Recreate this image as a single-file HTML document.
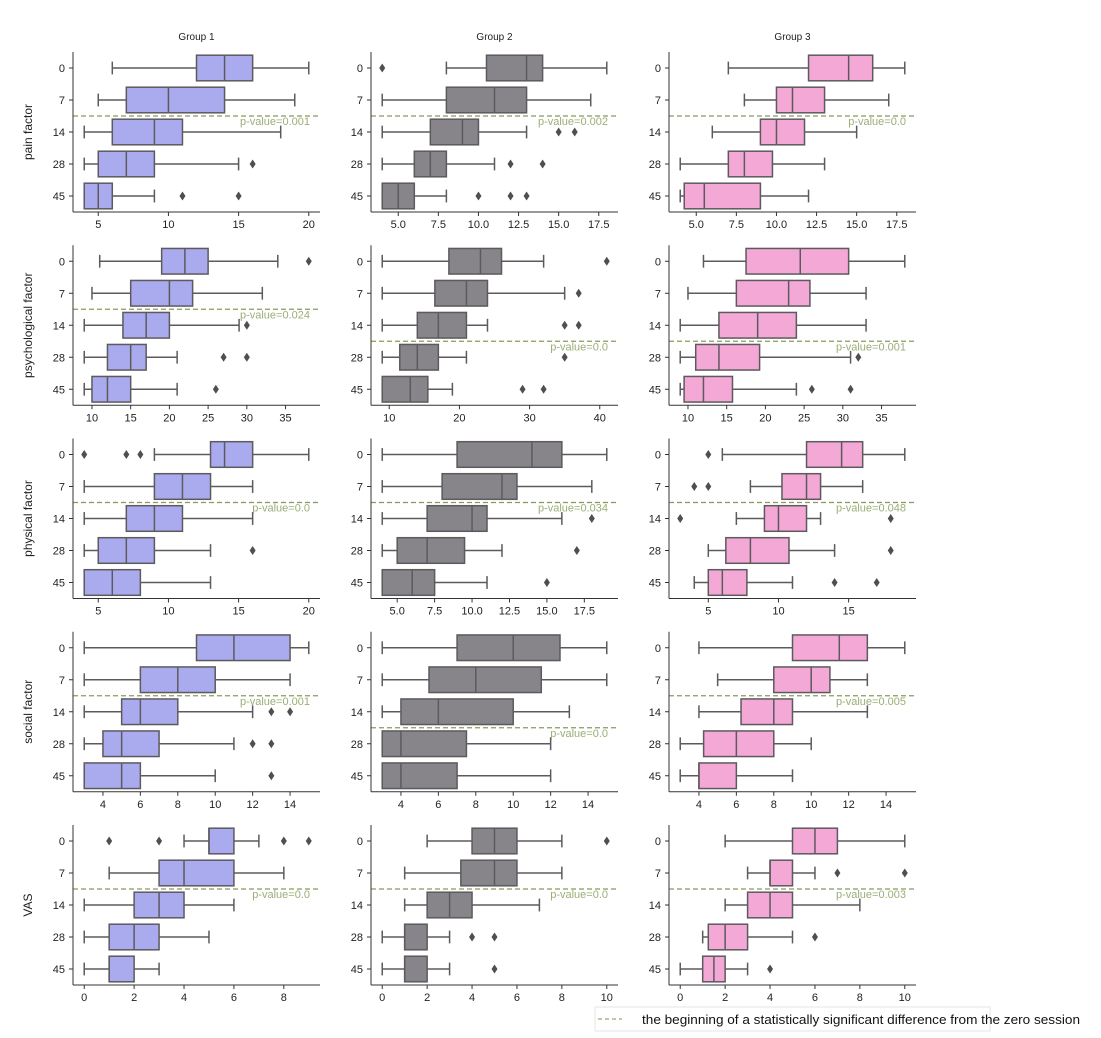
<!DOCTYPE html>
<html><head><meta charset="utf-8">
<style>
html,body{margin:0;padding:0;background:#fff;}
svg{display:block;font-family:"Liberation Sans",sans-serif;}
</style></head>
<body>
<svg id="chart" width="1101" height="1038" viewBox="0 0 1101 1038" xmlns="http://www.w3.org/2000/svg"></svg>
<script>
// ---- data ----
const sessions = ["0","7","14","28","45"];
const groups = ["Group 1","Group 2","Group 3"];
const factors = ["pain factor","psychological factor","physical factor","social factor","VAS"];
// box = [whiskerLow, q1, median, q3, whiskerHigh, [outliers]]
const painData = [
 [[6,12,14,16,20,[]],[5,7,10,14,19,[]],[4,6,9,11,18,[]],[4,5,7,9,15,[16]],[4,4,5,6,9,[11,15]]],
 [[8,10.5,13,14,18,[4]],[4,8,11,13,17,[]],[4,7,9,10,13,[15,16]],[4,6,7,8,11,[12,14]],[4,4,5,6,8,[10,12,13]]],
 [[7,12,14.5,16,18,[]],[8,10,11,13,17,[]],[6,9,10,11.75,15,[]],[4,7,8,9.75,13,[]],[4,4.25,5.5,9,12,[]]]
];
const psychData = [
 [[11,19,22,25,34,[38]],[10,15,20,23,32,[]],[9,14,17,20,29,[30]],[9,12,15,17,21,[27,30]],[9,10,12,15,21,[26]]],
 [[9,18.5,23,26,32,[41]],[9,16.5,21,24,35,[37]],[9,14,17,21,24,[35,37]],[9,11.5,14,17,21,[35]],[9,9,13,15.5,19,[29,32]]],
 [[12,17.5,24.5,30.75,38,[]],[10,16.25,23,25.75,33,[]],[9,14,19,24,33,[]],[9,11,14,19.25,31,[32]],[9,9.5,12,15.75,24,[26,31]]]
];
const physData = [
 [[9,13,14,16,20,[4,7,8]],[4,9,11,13,16,[]],[4,7,9,11,16,[]],[4,5,7,9,13,[16]],[4,4,6,8,13,[]]],
 [[4,9,14,16,19,[]],[4,8,12,13,18,[]],[4,7,10,11,16,[18]],[4,5,7,9.5,12,[17]],[4,4,6,7.5,11,[15]]],
 [[6,12,14.5,16,19,[5]],[8,10.25,12,13,16,[4,5]],[7,9,10,12,13,[3,18]],[5,6.25,8,10.75,14,[18]],[4,5,6,7.75,11,[14,17]]]
];
const socialData = [
 [[3,9,11,14,15,[]],[3,6,8,10,14,[]],[3,5,6,8,12,[13,14]],[3,4,5,7,11,[12,13]],[3,3,5,6,10,[13]]],
 [[3,7,10,12.5,15,[]],[3,5.5,8,11.5,15,[]],[3,4,6,10,13,[]],[3,3,4,7.5,12,[]],[3,3,4,7,12,[]]],
 [[4,9,11.5,13,15,[]],[5,8,10,11,13,[]],[4,6.25,8,9,13,[]],[3,4.25,6,8,10,[]],[3,4,4,6,9,[]]]
];
const vasData = [
 [[4,5,5,6,7,[1,3,8,9]],[1,3,4,6,8,[]],[0,2,3,4,6,[]],[0,1,2,3,5,[]],[0,1,1,2,3,[]]],
 [[2,4,5,6,8,[10]],[1,3.5,5,6,8,[]],[1,2,3,4,7,[]],[0,1,1,2,3,[4,5]],[0,1,1,2,3,[5]]],
 [[2,5,6,7,10,[]],[3,4,4,5,6,[7,10]],[2,3,4,5,8,[]],[1,1.25,2,3,5,[6]],[0,1,1.5,2,3,[4]]]
];
const allData = [painData, psychData, physData, socialData, vasData];
const tickSteps = [[5,2.5,2.5],[5,10,5],[5,2.5,5],[2,2,2],[2,2,2]];
const pValues = [["0.001","0.002","0.0"],["0.024","0.0","0.001"],["0.0","0.034","0.048"],["0.001","0.0","0.005"],["0.0","0.0","0.003"]];
const pPositions = [[1.5,1.5,1.5],[1.5,2.5,2.5],[1.5,1.5,1.5],[1.5,2.5,1.5],[1.5,1.5,1.5]];

// ---- layout ----
const NS = "http://www.w3.org/2000/svg";
const svg = document.getElementById("chart");
const colLeft = [73, 371, 669], axW = 247, axH = 160;
const fills = ["#aaabee", "#87858a", "#f4a8d6"];
const edge = "#5d5a5e";
function mk(tag, attrs, parent){
  const e = document.createElementNS(NS, tag);
  for (const k in attrs) e.setAttribute(k, attrs[k]);
  (parent || svg).appendChild(e);
  return e;
}
groups.forEach((g, c) => {
  const t = mk("text", {x: colLeft[c] + axW/2, y: 40, "text-anchor": "middle", "font-size": 10, fill: "#222"});
  t.textContent = g;
  
  
});
factors.forEach((f, r) => {
  const bottom = 212 + r * 193.25, top = bottom - axH;
  const yl = mk("text", {x: 0, y: 0, transform: `translate(32,${top + axH/2}) rotate(-90)`, "text-anchor": "middle", "font-size": 12, fill: "#222"});
  yl.textContent = f;
  
  
  for (let c = 0; c < 3; c++) {
    const boxes = allData[r][c];
    let mn = Infinity, mx = -Infinity;
    boxes.forEach(b => { mn = Math.min(mn, b[0], ...b[5]); mx = Math.max(mx, b[4], ...b[5]); });
    const pad = (mx - mn) * 0.05, d0 = mn - pad, d1 = mx + pad;
    const L = colLeft[c];
    const xs = v => L + (v - d0) / (d1 - d0) * axW;
    const ys = i => top + (i + 0.5) * axH / 5;
    const panel = mk("g", {});
    
    
    // significance line
    const py = ys(pPositions[r][c]);
    const dl = mk("line", {x1: L, x2: L + axW, y1: py, y2: py, stroke: "#8a9a5b", "stroke-width": 1.3, "stroke-dasharray": "5,3"}, panel);
    
    
    // boxes
    boxes.forEach((b, i) => {
      const y = ys(i), h = 25.6;
      const g = mk("g", {}, panel);
      
      
      mk("line", {x1: xs(b[0]), x2: xs(b[1]), y1: y, y2: y, stroke: edge, "stroke-width": 1.5}, g);
      mk("line", {x1: xs(b[3]), x2: xs(b[4]), y1: y, y2: y, stroke: edge, "stroke-width": 1.5}, g);
      mk("line", {x1: xs(b[0]), x2: xs(b[0]), y1: y - 6.4, y2: y + 6.4, stroke: edge, "stroke-width": 1.5}, g);
      mk("line", {x1: xs(b[4]), x2: xs(b[4]), y1: y - 6.4, y2: y + 6.4, stroke: edge, "stroke-width": 1.5}, g);
      mk("rect", {x: xs(b[1]), y: y - h/2, width: Math.max(0.5, xs(b[3]) - xs(b[1])), height: h, fill: fills[c], stroke: edge, "stroke-width": 1.5}, g);
      mk("line", {x1: xs(b[2]), x2: xs(b[2]), y1: y - h/2, y2: y + h/2, stroke: edge, "stroke-width": 1.5}, g);
      b[5].forEach(o => {
        const ox = xs(o);
        const p = mk("polygon", {points: `${ox},${y-4.5} ${ox+3},${y} ${ox},${y+4.5} ${ox-3},${y}`, fill: "#4f4f4f"}, g);
        
        
      });
    });
    const pt = mk("text", {x: L + axW - 10, y: py + 9, "text-anchor": "end", "font-size": 11, fill: "#9aae78"}, panel);
    pt.textContent = "p-value=" + pValues[r][c];
    
    
    // axes
    mk("line", {x1: L, x2: L, y1: top, y2: bottom, stroke: "#333", "stroke-width": 1}, panel);
    mk("line", {x1: L, x2: L + axW, y1: bottom, y2: bottom, stroke: "#333", "stroke-width": 1}, panel);
    sessions.forEach((s, i) => {
      mk("line", {x1: L - 4, x2: L, y1: ys(i), y2: ys(i), stroke: "#333"}, panel);
      const t = mk("text", {x: L - 8, y: ys(i) + 4, "text-anchor": "end", "font-size": 11, fill: "#222"}, panel);
      t.textContent = s;
      
      
    });
    const st = tickSteps[r][c];
    const dec = Number.isInteger(st) ? 0 : 1;
    for (let v = Math.ceil(d0 / st) * st; v <= d1 + 1e-9; v += st) {
      const x = xs(v);
      mk("line", {x1: x, x2: x, y1: bottom, y2: bottom + 4, stroke: "#333"}, panel);
      const t = mk("text", {x: x, y: bottom + 16, "text-anchor": "middle", "font-size": 11, fill: "#222"}, panel);
      t.textContent = v.toFixed(dec);
      
      
    }
  }
});
// legend
const lg = mk("g", {});


mk("rect", {x: 595, y: 1007, width: 395, height: 24, fill: "#fff", stroke: "#e6e6e6"}, lg);
mk("line", {x1: 598, x2: 622, y1: 1019, y2: 1019, stroke: "#9aa67a", "stroke-width": 1.2, "stroke-dasharray": "4,3"}, lg);
const lt = mk("text", {x: 642, y: 1024, "font-size": 13, fill: "#111", textLength: 438, lengthAdjust: "spacingAndGlyphs"}, lg);
lt.textContent = "the beginning of a statistically significant difference from the zero session";


</script>
</body></html>
